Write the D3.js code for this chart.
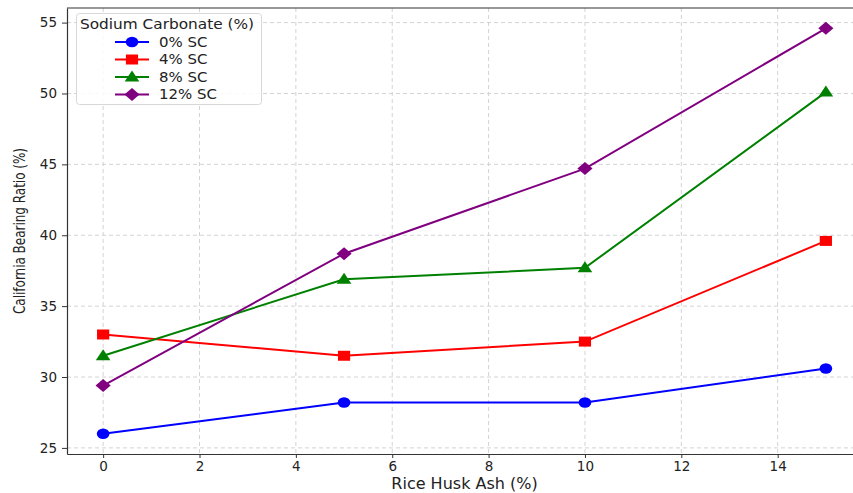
<!DOCTYPE html>
<html>
<head>
<meta charset="utf-8">
<script src="https://cdn.jsdelivr.net/npm/d3@7"></script>
<style>
  body { margin: 0; background: #fff; }
  svg { display: block; }
  .tick text { font-family: "DejaVu Sans", sans-serif; font-size: 13.5px; fill: #222; }
  .tick line { stroke: #333; }
</style>
</head>
<body>
<svg id="chart" width="853" height="493"></svg>
<script>
var width = 853, height = 493

// rice husk ash content (%)
var ash = [0, 5, 10, 15]
var seriesNames = ['0% SC', '4% SC', '8% SC', '12% SC']
var cbr0 = [26.0, 28.2, 28.2, 30.6]
var cbr4 = [33.0, 31.5, 32.5, 39.6]
var cbr8 = [31.5, 36.9, 37.7, 50.1]
var cbr12 = [29.4, 38.7, 44.7, 54.6]
var colors = ['#0000ff', '#ff0000', '#008000', '#800080']
var shapes = ['circle', 'square', 'triangle', 'diamond']
var xTicks = [0, 2, 4, 6, 8, 10, 12, 14]
var yTicks = [25, 30, 35, 40, 45, 50, 55]

var series = [cbr0, cbr4, cbr8, cbr12].map(function(v, i) {
  return { name: seriesNames[i], color: colors[i], shape: shapes[i],
    points: v.map(function(y, j) { return { x: ash[j], y: y } }) }
})

var pL = 67, pR = 862, pT = 8, pB = 454

var x = d3.scaleLinear().domain([-0.75, 15.75]).range([pL, pR])
var y = d3.scaleLinear().domain([24.57, 56.03]).range([pB, pT])

var svg = d3.select('#chart')

// grid
svg.append('g')
  .selectAll('line')
  .data(xTicks)
  .enter()
  .append('line')
  .attr('x1', function(d) { return x(d) })
  .attr('x2', function(d) { return x(d) })
  .attr('y1', pT)
  .attr('y2', pB)
  .attr('stroke', '#d3d3d3')
  .attr('stroke-dasharray', '4,3')

svg.append('g')
  .selectAll('line')
  .data(yTicks)
  .enter()
  .append('line')
  .attr('x1', pL)
  .attr('x2', pR)
  .attr('y1', function(d) { return y(d) })
  .attr('y2', function(d) { return y(d) })
  .attr('stroke', '#d3d3d3')
  .attr('stroke-dasharray', '4,3')

// axes
svg.append('g')
  .attr('transform', 'translate(0,' + pB + ')')
  .call(d3.axisBottom(x).tickValues(xTicks).tickSize(4).tickPadding(3).tickSizeOuter(0))
  .call(function(g) { g.select('.domain').attr('stroke', '#333').attr('stroke-width', 1.2) })

svg.append('g')
  .attr('transform', 'translate(' + pL + ',0)')
  .call(d3.axisLeft(y).tickValues(yTicks).tickSize(5).tickPadding(5).tickSizeOuter(0))
  .call(function(g) { g.select('.domain').attr('stroke', '#333').attr('stroke-width', 1.2) })

svg.append('line')
  .attr('x1', pL).attr('x2', pR)
  .attr('y1', pT).attr('y2', pT)
  .attr('stroke', '#333').attr('stroke-width', 1.2)

svg.append('line')
  .attr('x1', pR).attr('x2', pR)
  .attr('y1', pT).attr('y2', pB)
  .attr('stroke', '#333').attr('stroke-width', 1.2)

// axis labels
svg.append('text')
  .attr('x', (pL + pR) / 2)
  .attr('y', 489)
  .attr('text-anchor', 'middle')
  .attr('font-family', 'DejaVu Sans, sans-serif')
  .attr('font-size', '16px')
  .attr('fill', '#222')
  .text('Rice Husk Ash (%)')

svg.append('text')
  .attr('transform', 'translate(25,' + ((pT + pB) / 2) + ') rotate(-90)')
  .attr('text-anchor', 'middle')
  .attr('font-family', 'DejaVu Sans Condensed, DejaVu Sans, sans-serif')
  .attr('font-size', '15px')
  .attr('textLength', 166)
  .attr('lengthAdjust', 'spacingAndGlyphs')
  .attr('fill', '#222')
  .text('California Bearing Ratio (%)')

// marker shapes, stretched a little sideways like the reference
function markerPath(shape) {
  if (shape === 'circle') return d3.symbol().type(d3.symbolCircle).size(85)()
  if (shape === 'square') return d3.symbol().type(d3.symbolSquare).size(100)()
  if (shape === 'triangle') return 'M0,-6.5L6,4.5L-6,4.5Z'
  return 'M0,-6.5L6.2,0L0,6.5L-6.2,0Z'
}

var line = d3.line()
  .x(function(d) { return x(d.x) })
  .y(function(d) { return y(d.y) })

var g = svg.append('g')
  .selectAll('g')
  .data(series)
  .enter()
  .append('g')

g.append('path')
  .attr('d', function(d) { return line(d.points) })
  .attr('fill', 'none')
  .attr('stroke', function(d) { return d.color })
  .attr('stroke-width', 2)

g.each(function(s) {
  d3.select(this).selectAll('.m')
    .data(s.points)
    .enter()
    .append('path')
    .attr('d', markerPath(s.shape))
    .attr('transform', function(d) { return 'translate(' + x(d.x) + ',' + y(d.y) + ') scale(1.22,1)' })
    .attr('fill', s.color)
})

// legend
var legend = svg.append('g')
legend.append('rect')
  .attr('x', 76.5).attr('y', 13.5)
  .attr('width', 185).attr('height', 91)
  .attr('rx', 3)
  .attr('fill', 'rgba(255,255,255,0.85)')
  .attr('stroke', '#d8d8d8')

legend.append('text')
  .attr('x', 167).attr('y', 29)
  .attr('text-anchor', 'middle')
  .attr('font-family', 'DejaVu Sans, sans-serif')
  .attr('font-size', '14px')
  .attr('textLength', 174)
  .attr('lengthAdjust', 'spacingAndGlyphs')
  .attr('fill', '#222')
  .text('Sodium Carbonate (%)')

var item = legend.selectAll('.item')
  .data(series)
  .enter()
  .append('g')
  .attr('transform', function(d, i) { return 'translate(0,' + (42 + i * 17.5) + ')' })

item.append('line')
  .attr('x1', 115).attr('x2', 149)
  .attr('stroke', function(d) { return d.color })
  .attr('stroke-width', 2)

item.append('path')
  .attr('d', function(d) { return markerPath(d.shape) })
  .attr('transform', 'translate(132,0) scale(1.22,1)')
  .attr('fill', function(d) { return d.color })

item.append('text')
  .attr('x', 159).attr('y', 4.5)
  .attr('font-family', 'DejaVu Sans, sans-serif')
  .attr('font-size', '14px')
  .attr('transform', 'translate(159,0) scale(1.07,1) translate(-159,0)')
  .attr('fill', '#222')
  .text(function(d) { return d.name })
</script>
</body>
</html>
